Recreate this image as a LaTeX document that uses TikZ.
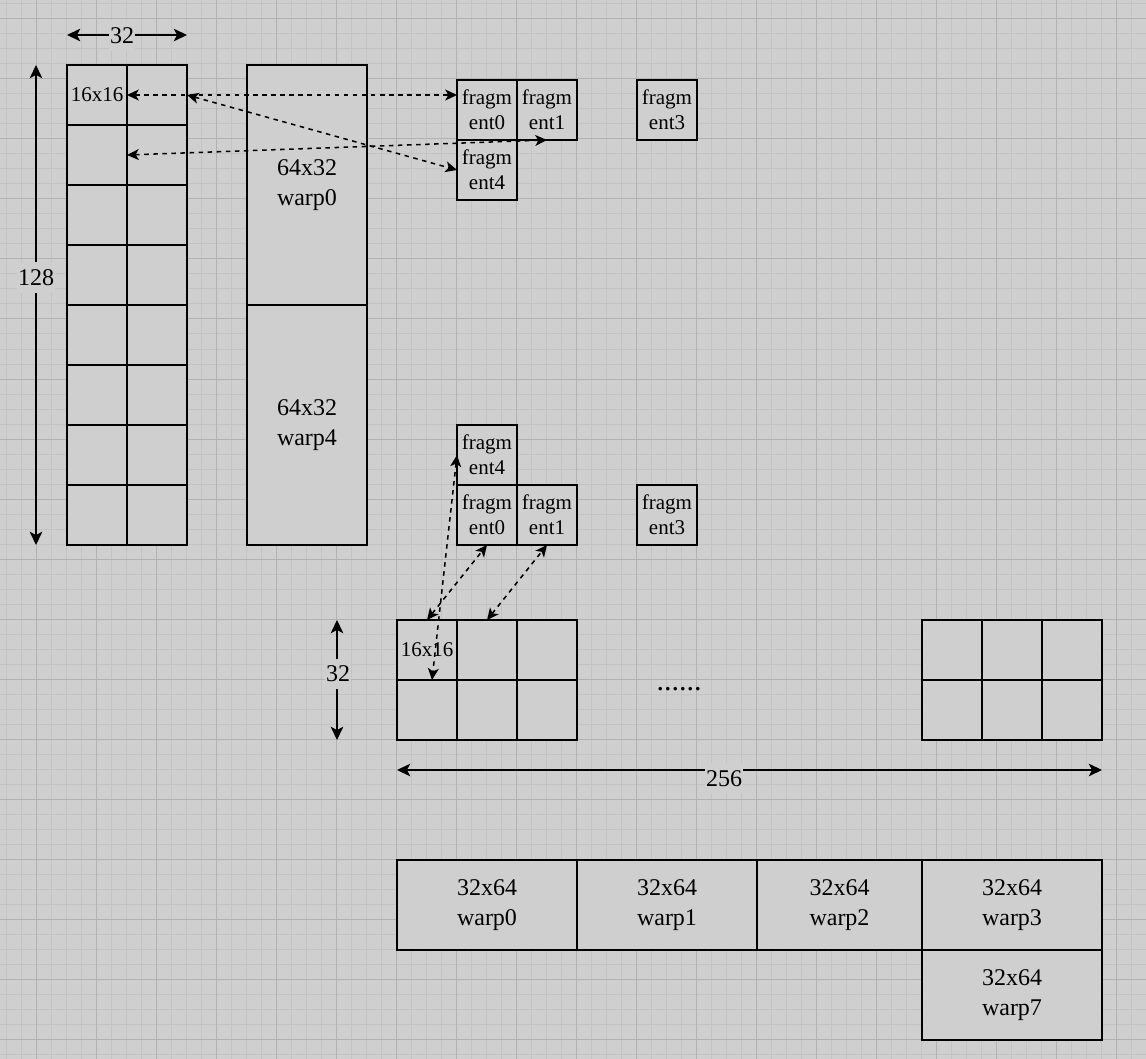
\documentclass[tikz,border=0pt]{standalone}
\usepackage{fontspec}
\setmainfont{Liberation Serif}
\usetikzlibrary{arrows.meta}
\definecolor{bgc}{RGB}{207,207,207}
\definecolor{gridminor}{RGB}{195,195,195}
\definecolor{gridmajor}{RGB}{178,178,178}
\newcommand\fsz[2]{\fontsize{#1}{#2}\selectfont}
\begin{document}
\begin{tikzpicture}[x=0.75pt,y=-0.75pt,
  box/.style={draw=black,fill=bgc,line width=1.15pt,inner sep=0pt,outer sep=0pt,align=center},
  cell/.style={box,minimum width=45pt,minimum height=45pt,font=\fsz{15.75}{18.75}},
  warpbox/.style={box,font=\fsz{18}{22.5}},
  dimline/.style={line width=1.15pt,{Stealth[length=10pt,width=9.5pt,inset=2.6pt]}-{Stealth[length=10pt,width=9.5pt,inset=2.6pt]}},
  link/.style={line width=1.15pt,dash pattern=on 3.4pt off 3.4pt,{Stealth[length=8.8pt,width=8.2pt,inset=2.3pt]}-{Stealth[length=8.8pt,width=8.2pt,inset=2.3pt]}},
  dimlabel/.style={fill=bgc,inner xsep=1pt,inner ysep=5.5pt,font=\fsz{18}{22.5}},
  minorgrid/.style={gridminor,line width=0.75pt},
  majorgrid/.style={gridmajor,line width=0.75pt},
]
\useasboundingbox (0,0) rectangle (1146,1059);
\fill[bgc] (0,0) rectangle (1146,1059);
% grid
\foreach \x in {6,21,...,1146} \draw[minorgrid] (\x,0) -- (\x,1059);
\foreach \y in {4,19,...,1059} \draw[minorgrid] (0,\y) -- (1146,\y);
\foreach \x in {36,96,...,1146} \draw[majorgrid] (\x,0) -- (\x,1059);
\foreach \y in {19,79,...,1059} \draw[majorgrid] (0,\y) -- (1146,\y);

% left column 8x2 cells
\foreach \r in {1,...,8} \foreach \c in {1,2}
  \node[cell] (L\r\c) at ({97+60*(\c-1)},{95+60*(\r-1)}) {};
\node[font=\fsz{15.75}{18.75}] (t1616a) at (L11) {16x16};

% warp column
\node[warpbox,minimum width=90pt,minimum height=180pt] (W0) at (307,185) {64x32\\warp0};
\node[warpbox,minimum width=90pt,minimum height=180pt] (W4) at (307,425) {64x32\\warp4};

% top fragments
\node[cell] (F0) at (487,110) {fragm\\ent0};
\node[cell] (F1) at (547,110) {fragm\\ent1};
\node[cell] (F3) at (667,110) {fragm\\ent3};
\node[cell] (F4) at (487,170) {fragm\\ent4};

% bottom fragments
\node[cell] (G4) at (487,455) {fragm\\ent4};
\node[cell] (G0) at (487,515) {fragm\\ent0};
\node[cell] (G1) at (547,515) {fragm\\ent1};
\node[cell] (G3) at (667,515) {fragm\\ent3};

% bottom grids
\foreach \r in {1,2} \foreach \c in {1,2,3} {
  \node[cell] (B\r\c) at ({427+60*(\c-1)},{650+60*(\r-1)}) {};
  \node[cell] (R\r\c) at ({952+60*(\c-1)},{650+60*(\r-1)}) {};
}
\node[font=\fsz{15.75}{18.75}] (t1616b) at (B11) {16x16};
\node[font=\fsz{22.5}{27},anchor=base,inner sep=0pt] (dots) at (679,690) {......};

% bottom warps
\node[warpbox,minimum width=135pt,minimum height=67.5pt] (P0) at (487,905) {32x64\\warp0};
\node[warpbox,minimum width=135pt,minimum height=67.5pt] (P1) at (667,905) {32x64\\warp1};
\node[warpbox,minimum width=123.75pt,minimum height=67.5pt] (P2) at (839.5,905) {32x64\\warp2};
\node[warpbox,minimum width=135pt,minimum height=67.5pt] (P3) at (1012,905) {32x64\\warp3};
\node[warpbox,minimum width=135pt,minimum height=67.5pt] (P7) at (1012,995) {32x64\\warp7};

% dimension lines
\coordinate (d32a) at (67,35);
\coordinate (d32b) at (187,35);
\coordinate (d128a) at (36,65);
\coordinate (d128b) at (36,545);
\coordinate (dv32a) at (337,620);
\coordinate (dv32b) at (337,740);
\coordinate (d256a) at (397,770);
\coordinate (d256b) at (1102,770);
\draw[dimline] (d32a) -- (d32b);
\draw[dimline] (d128a) -- (d128b);
\draw[dimline] (dv32a) -- (dv32b);
\draw[dimline] (d256a) -- (d256b);
\node[dimlabel] (l32) at (122,35.5) {32};
\node[dimlabel] (l128) at (36,277.5) {128};
\node[dimlabel] (lv32) at (338,674) {32};
\node[dimlabel] (l256) at (724,778.5) {256};

% dashed links (top)
\draw[link] (L12.west) -- ([yshift=11.25pt]F0.west);
\draw[link] (L12.east) -- (F4.west);
\draw[link] (L22.west) -- (F1.south);
% dashed links (bottom)
\draw[link] (B11.north) -- (G0.south);
\draw[link] (B12.north) -- (G1.south);
\draw[link] (G4.west) -- ([xshift=3.75pt]B21.north);
\end{tikzpicture}
\end{document}
